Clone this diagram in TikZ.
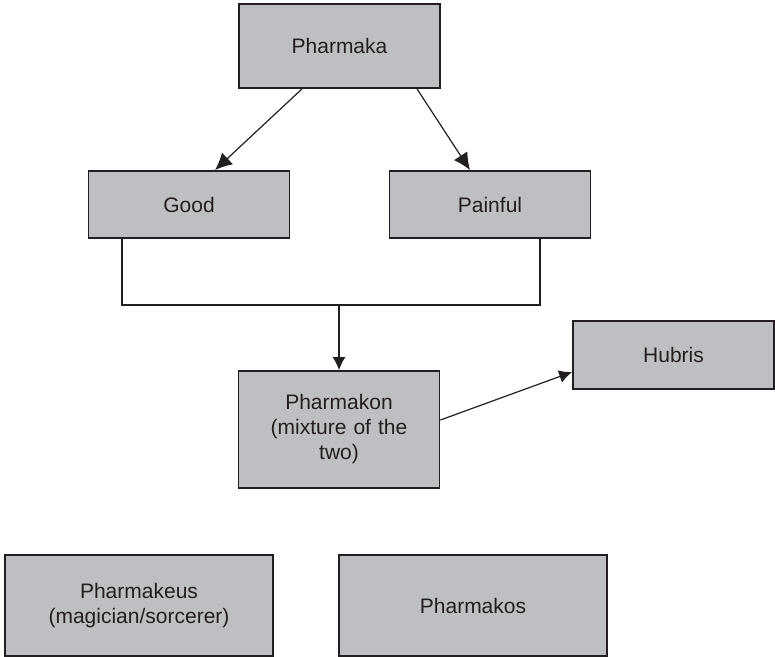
\documentclass[tikz,border=0pt]{standalone}
\usepackage{fontspec}
\setmainfont{Liberation Sans}
\usepackage{tikz}
\usetikzlibrary{arrows.meta}
\definecolor{boxgray}{RGB}{190,191,195}
\definecolor{inkgray}{RGB}{35,31,32}

\begin{document}
\begin{tikzpicture}[x=0.5pt,y=-0.5pt,draw=inkgray,>={Latex[length=6.5pt,width=6.5pt]}]
	\tikzstyle{box}=[draw=inkgray,line width=0.9pt,fill=boxgray,text=inkgray,inner sep=0pt,align=center,font=\fontsize{10.5}{12.5}\selectfont]
	\tikzstyle{w}=[box, minimum width=100.5pt];
	\tikzstyle{wide}=[box, minimum width=134pt, minimum height=50.5pt];
	\tikzstyle{big}=[-{Latex[length=8.5pt,width=8pt]}];
	\useasboundingbox (0,0) rectangle (775,657);
	% top row
	\node[w,minimum height=42pt](pharmaka) at (339.5,46){Pharmaka};
	\node[w,minimum height=33.5pt](good) at (189,204.5){Good};
	\node[w,minimum height=33.5pt](painful) at (490,204.5){Painful};
	% middle
	\node[w,minimum height=58.5pt,text width=80pt](pharmakon) at (339,429.5){Pharmakon\\(mixture of the\\two)};
	\node[w,minimum height=34pt](hubris) at (673.5,355){Hubris};
	% bottom row
	\node[wide](pharmakeus) at (139,605.5){Pharmakeus\\(magician/sorcerer)};
	\node[wide](pharmakos) at (473,605.5){Pharmakos};
	\coordinate (merge) at (339,305);
	\draw[big,line width=0.6pt] ([xshift=-18.75pt]pharmaka.south) -- ([xshift=13pt]good.north);
	\draw[big,line width=0.6pt] ([xshift=38.75pt]pharmaka.south) -- ([xshift=-10pt]painful.north);
	\draw[line width=0.6pt] ([xshift=-33.5pt]good.south) |- (merge);
	\draw[line width=0.6pt] ([xshift=25pt]painful.south) |- (merge);
	\draw[->,line width=0.6pt] (merge) -- (pharmakon.north);
	\draw[->,line width=0.6pt] ([yshift=4.75pt]pharmakon.east) -- ([yshift=-8.5pt]hubris.west);
\end{tikzpicture}
\end{document}
